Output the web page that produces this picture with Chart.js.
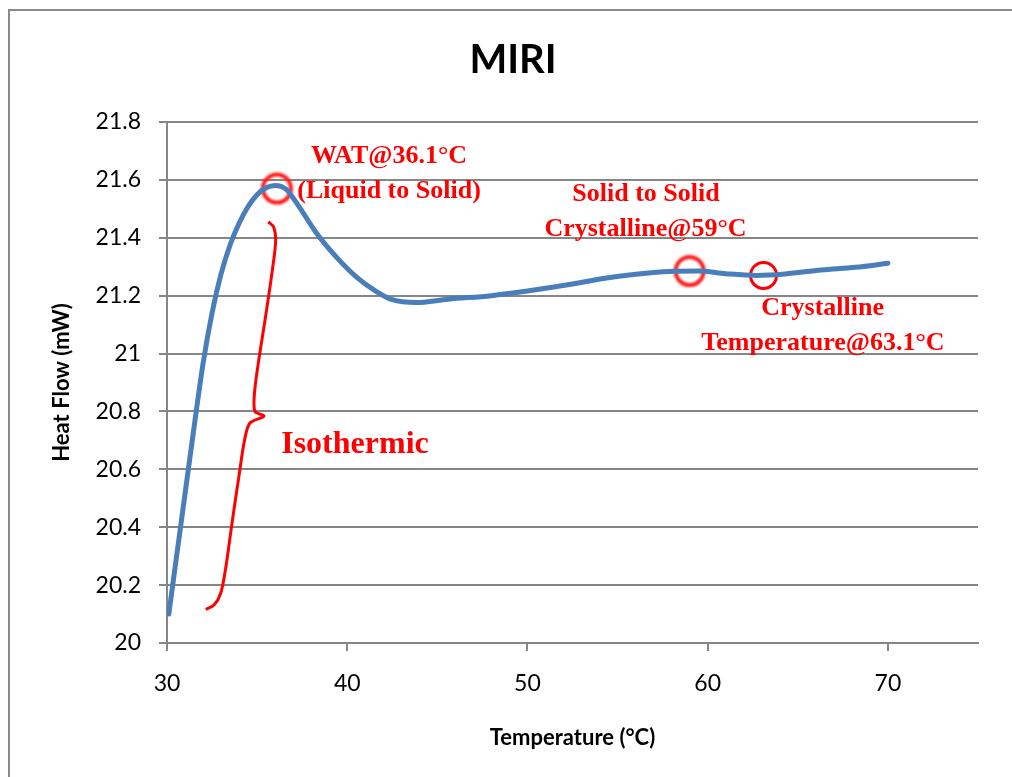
<!DOCTYPE html>
<html>
<head>
<meta charset="utf-8">
<title>MIRI</title>
<script src="https://cdn.jsdelivr.net/npm/chart.js@4.4.1/dist/chart.umd.min.js"></script>
<style>
  html, body { margin: 0; padding: 0; background: #ffffff; overflow: hidden; }
  #wrap { width: 1012px; height: 777px; position: relative; overflow: hidden; }
  #chart { display: block; }
</style>
</head>
<body>
<div id="wrap"><canvas id="chart" width="1012" height="777"></canvas></div>
<script>
// DSC heat-flow trace (temperature in °C, heat flow in mW)
const temperature = [30.1, 30.5, 31.0, 31.5, 32.0, 32.5, 33.0, 33.5, 34.0, 34.5, 35.0, 35.5, 36.0,
  36.6, 37.3, 38.25, 39.4, 40.5, 41.6, 42.5, 43.8, 45.6, 48.0, 50.0, 52.5,
  54.3, 57.0, 59.5, 61.0, 62.7, 64.3, 66.3, 68.2, 70.0];
const heatFlow = [20.10, 20.285, 20.515, 20.745, 20.965, 21.14, 21.275, 21.375, 21.45, 21.508, 21.549, 21.573, 21.581,
  21.568, 21.51, 21.42, 21.333, 21.265, 21.215, 21.186, 21.176, 21.188, 21.20, 21.216, 21.24,
  21.26, 21.28, 21.285, 21.276, 21.27, 21.275, 21.289, 21.298, 21.312];

// Axis ranges and tick spacing
const xRange = [30, 75];
const xStep = 10;
const yRange = [20, 21.8];
const yStep = 0.2;

// Transition markers (temperature, heat flow)
const softMarkTemps = [36.1, 59];
const softMarkFlows = [21.57, 21.285];
const sharpMarkTemps = [63.1];
const sharpMarkFlows = [21.27];

// Curly brace spanning the isothermic rise (bottom to top)
const braceTemps = [32.15, 32.61, 32.98, 33.26, 33.62, 34.0, 34.3, 34.6, 35.38,
  34.88, 34.85, 35.05, 35.45, 35.85, 36.03, 35.92, 35.62];
const braceFlows = [20.116, 20.131, 20.172, 20.26, 20.42, 20.58, 20.70, 20.76, 20.784,
  20.80, 20.86, 20.96, 21.12, 21.29, 21.39, 21.437, 21.455];

// Annotation notes, anchored in data coordinates
const noteTexts = ['WAT@36.1°C', '(Liquid to Solid)', 'Solid to Solid', 'Crystalline@59°C',
  'Crystalline', 'Temperature@63.1°C', 'Isothermic'];
const noteTemps = [42.32, 42.32, 56.58, 56.55, 66.38, 66.40, 40.43];
const noteFlows = [21.683, 21.56, 21.551, 21.431, 21.155, 21.034, 20.684];
const noteSizes = [26, 26, 26, 26, 26, 26, 32];

const toPoints = (xs, ys) => xs.map((x, i) => ({ x: x, y: ys[i] }));

const GRID = '#868686';

// Outer chart frame: only its left and top edges fall inside the canvas
const framePlugin = {
  id: 'frame',
  beforeDraw(chart) {
    const ctx = chart.ctx;
    ctx.save();
    ctx.fillStyle = '#ffffff';
    ctx.fillRect(0, 0, chart.width, chart.height);
    ctx.fillStyle = '#8a8a8a';
    ctx.fillRect(8, 9, 2, chart.height - 9);
    ctx.fillRect(8, 9, chart.width - 8, 2);
    ctx.restore();
  }
};

const softPlugin = {
  id: 'softMarks',
  beforeDatasetDraw(chart, args) {
    if (args.index === 2) { chart.ctx.save(); chart.ctx.filter = 'blur(1px)'; }
  },
  afterDatasetDraw(chart, args) {
    if (args.index === 2) { chart.ctx.restore(); }
  }
};

const notesPlugin = {
  id: 'notes',
  afterDatasetsDraw(chart) {
    const ctx = chart.ctx;
    const xs = chart.scales.x, ys = chart.scales.y;
    ctx.save();
    ctx.fillStyle = '#ff0000';
    ctx.textAlign = 'center';
    ctx.textBaseline = 'middle';
    noteTexts.forEach((t, i) => {
      ctx.font = 'bold ' + noteSizes[i] + 'px "Liberation Serif", "Times New Roman", serif';
      ctx.fillText(t, xs.getPixelForValue(noteTemps[i]), ys.getPixelForValue(noteFlows[i]));
    });
    ctx.restore();
  }
};

Chart.defaults.font.family = 'Lato, "Open Sans", sans-serif';
Chart.defaults.color = '#000000';

new Chart(document.getElementById('chart'), {
  type: 'scatter',
  data: {
    datasets: [
      {
        data: toPoints(temperature, heatFlow),
        showLine: true,
        borderColor: '#4a7ebb',
        borderWidth: 5,
        pointRadius: 0,
        cubicInterpolationMode: 'monotone',
        borderCapStyle: 'round'
      },
      {
        data: toPoints(braceTemps, braceFlows),
        showLine: true,
        borderColor: '#ff0000',
        borderWidth: 3,
        pointRadius: 0,
        tension: 0.3
      },
      {
        data: toPoints(softMarkTemps, softMarkFlows),
        showLine: false,
        pointRadius: 14,
        pointBorderWidth: 4,
        pointBorderColor: '#ff1a1a',
        pointBackgroundColor: 'rgba(0,0,0,0)'
      },
      {
        data: toPoints(sharpMarkTemps, sharpMarkFlows),
        showLine: false,
        pointRadius: 13,
        pointBorderWidth: 3,
        pointBorderColor: '#ff0000',
        pointBackgroundColor: 'rgba(0,0,0,0)'
      }
    ]
  },
  options: {
    responsive: false,
    animation: false,
    devicePixelRatio: 1,
    layout: { padding: { left: 48, right: 34, top: 0, bottom: 0 } },
    plugins: {
      legend: { display: false },
      tooltip: { enabled: false },
      title: {
        display: true,
        text: 'MIRI',
        color: '#000000',
        font: { family: 'Lato, sans-serif', size: 40, weight: 'bold' },
        padding: { top: 36, bottom: 38 }
      }
    },
    scales: {
      x: {
        type: 'linear',
        min: xRange[0],
        max: xRange[1],
        ticks: { stepSize: xStep, includeBounds: false, font: { size: 23 }, color: '#000000', padding: 19 },
        grid: { drawOnChartArea: false, drawTicks: true, tickLength: 8, color: GRID, lineWidth: 2 },
        border: { color: GRID, width: 2 },
        title: {
          display: true,
          text: 'Temperature (°C)',
          color: '#000000',
          font: { size: 22, weight: 'bold' },
          padding: { top: 0, bottom: 26 }
        },
        afterFit(scale) { scale.height = 134; }
      },
      y: {
        min: yRange[0],
        max: yRange[1],
        ticks: {
          stepSize: yStep,
          font: { size: 23 },
          color: '#000000',
          padding: 18,
          callback: v => String(Number(v.toFixed(1)))
        },
        grid: { color: GRID, lineWidth: 2, tickLength: 8 },
        border: { color: GRID, width: 2 },
        title: {
          display: true,
          text: 'Heat Flow (mW)',
          color: '#000000',
          font: { size: 22, weight: 'bold' },
          padding: { top: 1, bottom: 0 }
        },
        afterFit(scale) { scale.width = 119; }
      }
    }
  },
  plugins: [framePlugin, softPlugin, notesPlugin]
});
</script>
</body>
</html>
